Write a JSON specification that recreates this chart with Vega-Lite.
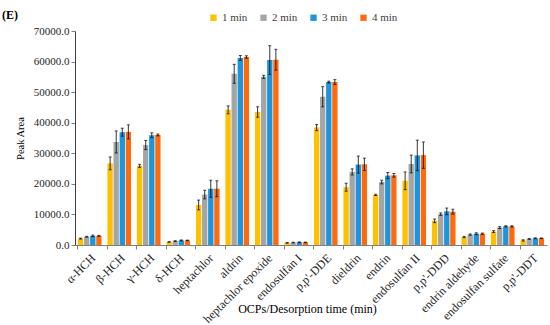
{
  "$schema": "https://vega.github.io/schema/vega-lite/v6.json",
  "autosize": {"type": "none"},
  "padding": {"left": 75, "top": 31, "right": 3, "bottom": 80},
  "width": 472,
  "height": 214,
  "background": "white",
  "title": {"text": "(E)", "anchor": "start", "frame": "group", "orient": "top", "dx": -73, "dy": 14, "offset": 4, "font": "Liberation Serif", "fontSize": 12, "fontWeight": "bold", "color": "#000000"},
  "config": {
    "view": {"stroke": null},
    "font": "Liberation Serif",
    "axis": {"labelFont": "Liberation Serif", "titleFont": "Liberation Serif", "labelColor": "#262626", "titleColor": "#000000", "titleFontWeight": "normal", "grid": false, "domainColor": "#808080", "tickColor": "#808080", "labelFontSize": 10.5, "titleFontSize": 10.5, "labelOverlap": false},
    "legend": {"labelFont": "Liberation Serif", "labelFontSize": 10.5, "labelColor": "#404040"}
  },
  "data": {"values": [
    {"c": "α-HCH", "t": "1 min", "v": 2100, "e": 150},
    {"c": "α-HCH", "t": "2 min", "v": 2700, "e": 150},
    {"c": "α-HCH", "t": "3 min", "v": 3000, "e": 250},
    {"c": "α-HCH", "t": "4 min", "v": 3000, "e": 150},
    {"c": "β-HCH", "t": "1 min", "v": 26700, "e": 2100},
    {"c": "β-HCH", "t": "2 min", "v": 33700, "e": 3600},
    {"c": "β-HCH", "t": "3 min", "v": 36900, "e": 1300},
    {"c": "β-HCH", "t": "4 min", "v": 37000, "e": 2300},
    {"c": "γ-HCH", "t": "1 min", "v": 25900, "e": 500},
    {"c": "γ-HCH", "t": "2 min", "v": 32700, "e": 1500},
    {"c": "γ-HCH", "t": "3 min", "v": 35900, "e": 800},
    {"c": "γ-HCH", "t": "4 min", "v": 36000, "e": 300},
    {"c": "δ-HCH", "t": "1 min", "v": 1000, "e": 100},
    {"c": "δ-HCH", "t": "2 min", "v": 1300, "e": 100},
    {"c": "δ-HCH", "t": "3 min", "v": 1500, "e": 150},
    {"c": "δ-HCH", "t": "4 min", "v": 1500, "e": 100},
    {"c": "heptachlor", "t": "1 min", "v": 13100, "e": 1600},
    {"c": "heptachlor", "t": "2 min", "v": 16500, "e": 1400},
    {"c": "heptachlor", "t": "3 min", "v": 18400, "e": 2800},
    {"c": "heptachlor", "t": "4 min", "v": 18400, "e": 2600},
    {"c": "aldrin", "t": "1 min", "v": 44200, "e": 1300},
    {"c": "aldrin", "t": "2 min", "v": 56000, "e": 3100},
    {"c": "aldrin", "t": "3 min", "v": 61200, "e": 800},
    {"c": "aldrin", "t": "4 min", "v": 61500, "e": 400},
    {"c": "heptachlor epoxide", "t": "1 min", "v": 43500, "e": 1700},
    {"c": "heptachlor epoxide", "t": "2 min", "v": 55000, "e": 500},
    {"c": "heptachlor epoxide", "t": "3 min", "v": 60500, "e": 4700},
    {"c": "heptachlor epoxide", "t": "4 min", "v": 60600, "e": 3400},
    {"c": "endosulfan I", "t": "1 min", "v": 700, "e": 100},
    {"c": "endosulfan I", "t": "2 min", "v": 800, "e": 100},
    {"c": "endosulfan I", "t": "3 min", "v": 900, "e": 100},
    {"c": "endosulfan I", "t": "4 min", "v": 850, "e": 100},
    {"c": "p,p'-DDE", "t": "1 min", "v": 38400, "e": 1000},
    {"c": "p,p'-DDE", "t": "2 min", "v": 48500, "e": 3300},
    {"c": "p,p'-DDE", "t": "3 min", "v": 53300, "e": 300},
    {"c": "p,p'-DDE", "t": "4 min", "v": 53300, "e": 800},
    {"c": "dieldrin", "t": "1 min", "v": 18900, "e": 1300},
    {"c": "dieldrin", "t": "2 min", "v": 23900, "e": 1000},
    {"c": "dieldrin", "t": "3 min", "v": 26300, "e": 2800},
    {"c": "dieldrin", "t": "4 min", "v": 26400, "e": 2000},
    {"c": "endrin", "t": "1 min", "v": 16400, "e": 200},
    {"c": "endrin", "t": "2 min", "v": 20600, "e": 600},
    {"c": "endrin", "t": "3 min", "v": 22700, "e": 1000},
    {"c": "endrin", "t": "4 min", "v": 22800, "e": 600},
    {"c": "endosulfan II", "t": "1 min", "v": 21000, "e": 2900},
    {"c": "endosulfan II", "t": "2 min", "v": 26500, "e": 2900},
    {"c": "endosulfan II", "t": "3 min", "v": 29300, "e": 5000},
    {"c": "endosulfan II", "t": "4 min", "v": 29400, "e": 4300},
    {"c": "p,p'-DDD", "t": "1 min", "v": 7900, "e": 600},
    {"c": "p,p'-DDD", "t": "2 min", "v": 10100, "e": 400},
    {"c": "p,p'-DDD", "t": "3 min", "v": 11000, "e": 1100},
    {"c": "p,p'-DDD", "t": "4 min", "v": 10900, "e": 800},
    {"c": "endrin aldehyde", "t": "1 min", "v": 2600, "e": 200},
    {"c": "endrin aldehyde", "t": "2 min", "v": 3400, "e": 200},
    {"c": "endrin aldehyde", "t": "3 min", "v": 3700, "e": 300},
    {"c": "endrin aldehyde", "t": "4 min", "v": 3700, "e": 200},
    {"c": "endosulfan sulfate", "t": "1 min", "v": 4400, "e": 300},
    {"c": "endosulfan sulfate", "t": "2 min", "v": 5700, "e": 300},
    {"c": "endosulfan sulfate", "t": "3 min", "v": 6100, "e": 200},
    {"c": "endosulfan sulfate", "t": "4 min", "v": 6100, "e": 200},
    {"c": "p,p'-DDT", "t": "1 min", "v": 1500, "e": 200},
    {"c": "p,p'-DDT", "t": "2 min", "v": 2000, "e": 150},
    {"c": "p,p'-DDT", "t": "3 min", "v": 2200, "e": 150},
    {"c": "p,p'-DDT", "t": "4 min", "v": 2200, "e": 100}
  ]},
  "encoding": {
    "x": {"field": "c", "type": "nominal", "sort": null,
      "scale": {"paddingInner": 0.2, "paddingOuter": 0.1},
      "axis": {"title": "OCPs/Desorption time (min)", "labelAngle": -45, "labelAlign": "right", "labelBaseline": "top", "bandPosition": 0, "ticks": true, "tickSize": 4, "labelPadding": 3, "labelFontSize": 12, "titleY": 67, "titleBaseline": "alphabetic", "titleX": 232, "titleFontSize": 12}},
    "xOffset": {"field": "t", "type": "nominal", "scale": {"paddingInner": 0.12}},
    "y": {"field": "v", "type": "quantitative", "scale": {"domain": [0, 70000]},
      "axis": {"title": "Peak Area", "values": [0, 10000, 20000, 30000, 40000, 50000, 60000, 70000], "format": ".1f", "tickSize": 4, "titlePadding": 8, "domainColor": "#404040", "labelOverlap": false, "labelFontSize": 11}}
  },
  "layer": [
    {
      "mark": {"type": "bar"},
      "encoding": {
        "color": {"field": "t", "type": "nominal",
          "scale": {"domain": ["1 min", "2 min", "3 min", "4 min"], "range": ["#FFC000", "#A5A5A5", "#1C95DB", "#FF6A0F"]},
          "legend": {"title": null, "orient": "none", "direction": "horizontal", "legendX": 133, "legendY": -19, "symbolType": "square", "symbolSize": 40, "columnPadding": 10, "labelOffset": 3, "labelFontSize": 11}}
      }
    },
    {
      "mark": {"type": "errorbar", "ticks": {"size": 3, "color": "#000000"}, "rule": {"color": "#000000", "strokeWidth": 0.8}},
      "encoding": {
        "yError": {"field": "e"}
      }
    }
  ]
}
